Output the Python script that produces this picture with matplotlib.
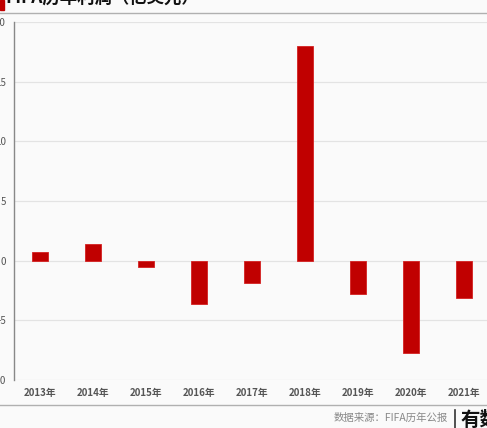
import matplotlib
matplotlib.use("Agg")
import matplotlib.pyplot as plt
from matplotlib.patches import Rectangle
from matplotlib.lines import Line2D

# ==================== Data ====================
years = ["2013年", "2014年", "2015年", "2016年", "2017年", "2018年", "2019年", "2020年", "2021年"]
profit = [0.73, 1.40, -0.53, -3.63, -1.90, 18.03, -2.76, -7.73, -3.12]  # 亿美元
yticks = [-10, -5, 0, 5, 10, 15, 20]

plt.rcParams["font.family"] = ["Noto Sans CJK SC", "DejaVu Sans"]

BG = "#fafafa"
RED = "#c00000"

fig = plt.figure(figsize=(4.87, 4.28), dpi=100, facecolor=BG)
W, H = 487, 428

# main axes (runs a bit past the right edge, like the cropped original)
ax = fig.add_axes([13.5 / W, 48 / H, 477 / W, 358 / H], facecolor=BG)
x = list(range(len(years)))
ax.bar(x, profit, width=0.3, color=RED, edgecolor="#d42020", linewidth=0.6, zorder=3)
ax.set_xlim(-0.5, 8.5)
ax.set_ylim(-10, 20)
ax.set_yticks(yticks)
ax.set_yticklabels([str(v) for v in yticks], fontsize=7, color="#555555")
ax.set_xticks(x)
ax.set_xticklabels(years, fontsize=7, color="#555555", fontweight="bold")
ax.tick_params(axis="both", length=0)
ax.tick_params(axis="y", pad=5.5)
ax.tick_params(axis="x", pad=6)
ax.grid(axis="y", color="#e3e3e3", linewidth=0.9, zorder=0)
for s in ["top", "right", "bottom"]:
    ax.spines[s].set_visible(False)
ax.spines["left"].set_color("#888888")
ax.spines["left"].set_linewidth(1.0)

# header
fig.patches.append(Rectangle((0, 1 - 10 / H), 4 / W, 10 / H, transform=fig.transFigure,
                             color=RED, zorder=5))
fig.text(5 / W, 1 + 1 / H, "FIFA历年利润（亿美元）", fontsize=12.5, fontweight="bold",
         color="#111111", ha="left", va="center")
fig.lines.append(Line2D([0, 1], [1 - 13 / H, 1 - 13 / H], transform=fig.transFigure,
                        color="#b0b0b0", linewidth=1.0))

# footer
fig.lines.append(Line2D([0, 1], [1 - 405 / H, 1 - 405 / H], transform=fig.transFigure,
                        color="#b0b0b0", linewidth=1.0))
fig.text(448 / W, 1 - 418 / H, "数据来源：FIFA历年公报", fontsize=7.5, color="#888888",
         ha="right", va="center")
fig.lines.append(Line2D([455 / W, 455 / W], [0, 1 - 410 / H], transform=fig.transFigure,
                        color="#333333", linewidth=1.2))
fig.text(461 / W, 1 - 420 / H, "有数", fontsize=14, fontweight="bold", color="#111111",
         ha="left", va="center")

plt.savefig("out.png", dpi=100, facecolor=BG)
